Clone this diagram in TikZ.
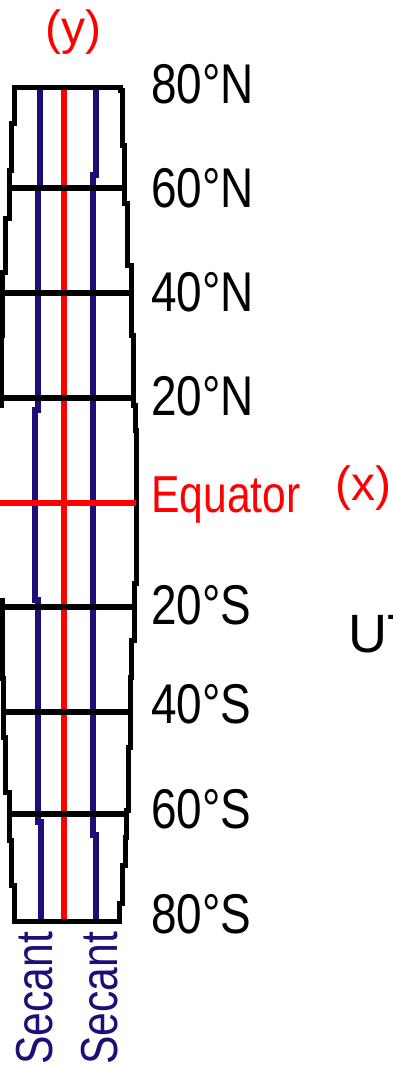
\documentclass[tikz,border=0pt]{standalone}
\usepackage{fontspec}
\newfontfamily\labfont[FakeStretch=0.82]{Liberation Sans}
\newfontfamily\axisfont{Liberation Sans}
\definecolor{utmred}{HTML}{FF0000}
\definecolor{secblue}{HTML}{1C0F78}
\tikzset{
  zonerim/.style = {draw=black, line width=5pt, line join=miter},
  latline/.style = {draw=black, line width=5.5pt},
  eqline/.style  = {draw=utmred, line width=5.5pt},
  secline/.style = {draw=secblue, line width=6pt},
  latlab/.style  = {font=\labfont\fontsize{56}{60}\selectfont,
                    inner sep=0pt, anchor=base west},
  seclab/.style  = {font=\labfont\fontsize{52}{56}\selectfont, text=secblue,
                    inner sep=0pt, rotate=90, anchor=base west},
  axlab/.style   = {font=\axisfont\fontsize{48}{52}\selectfont, text=utmred,
                    inner sep=0pt, anchor=base},
}

\begin{document}
\begin{tikzpicture}[x=1pt, y=-1pt]
  \useasboundingbox (0,0) rectangle (392,1065);
  % central meridian and the two secant lines
  \draw[secline] (40,87) -- (40,188) -- (38,188) -- (38,410) -- (35,410)
    -- (35,600) -- (38,600) -- (38,822) -- (41,822) -- (41,921);
  \draw[secline] (96,87) -- (96,175) -- (93,175) -- (93,835) -- (96,835)
    -- (96,921);
  \draw[eqline] (64,87) -- (64,921);
  % zone outline
  \draw[zonerim] (14,87) -- (120,87)
    foreach \x/\y in {122/90, 124/145, 127/203, 131/265, 133/335, 135/405,
                      136/430, 134/583, 131/640, 130/677, 128/747, 126/810,
                      125/837, 122/865, 119/903}{ |- (\x,\y) }
    -- (119,921) -- (14,921)
    foreach \x/\y in {11/885, 9/840, 5/792, 3/737, 2/678, -6/600, 1/405,
                      2/335, 5/272, 9/218, 11/170, 14/123}{ |- (\x,\y) }
    -- cycle;
  % parallels and their labels
  \foreach \y/\l/\r/\t/\b in {188/9/124/60/207, 293/2/131/40/311,
                              398/1/133/20/415}{
    \draw[latline] (\l,\y) -- (\r,\y);
    \node[latlab] (n\t) at (151,\b) {\t°N};
  }
  \foreach \y/\l/\r/\t/\b in {607/-6/134/20/624, 712/3/130/40/723,
                              814/9/126/60/828}{
    \draw[latline] (\l,\y) -- (\r,\y);
    \node[latlab] (s\t) at (151,\b) {\t°S};
  }
  \node[latlab] (n80) at (151,103) {80°N};
  \node[latlab] (s80) at (151,933) {80°S};
  \draw[eqline] (-6,503) -- (136,503);
  \node[latlab, text=utmred, font=\labfont\fontsize{52}{56}\selectfont]
    (eq) at (151,512) {Equator};
  % axis letters
  \node[axlab] (ylab) at (73,45) {(y)};
  \node[axlab] (xlab) at (363,500) {(x)};
  \node[axlab, text=black, anchor=base west, font=\axisfont\fontsize{54}{58}\selectfont]
    (utm) at (348,652) {UT};
  % secant names
  \node[seclab] (secl) at (52,1065) {Secant};
  \node[seclab] (secr) at (117,1065) {Secant};
\end{tikzpicture}
\end{document}
